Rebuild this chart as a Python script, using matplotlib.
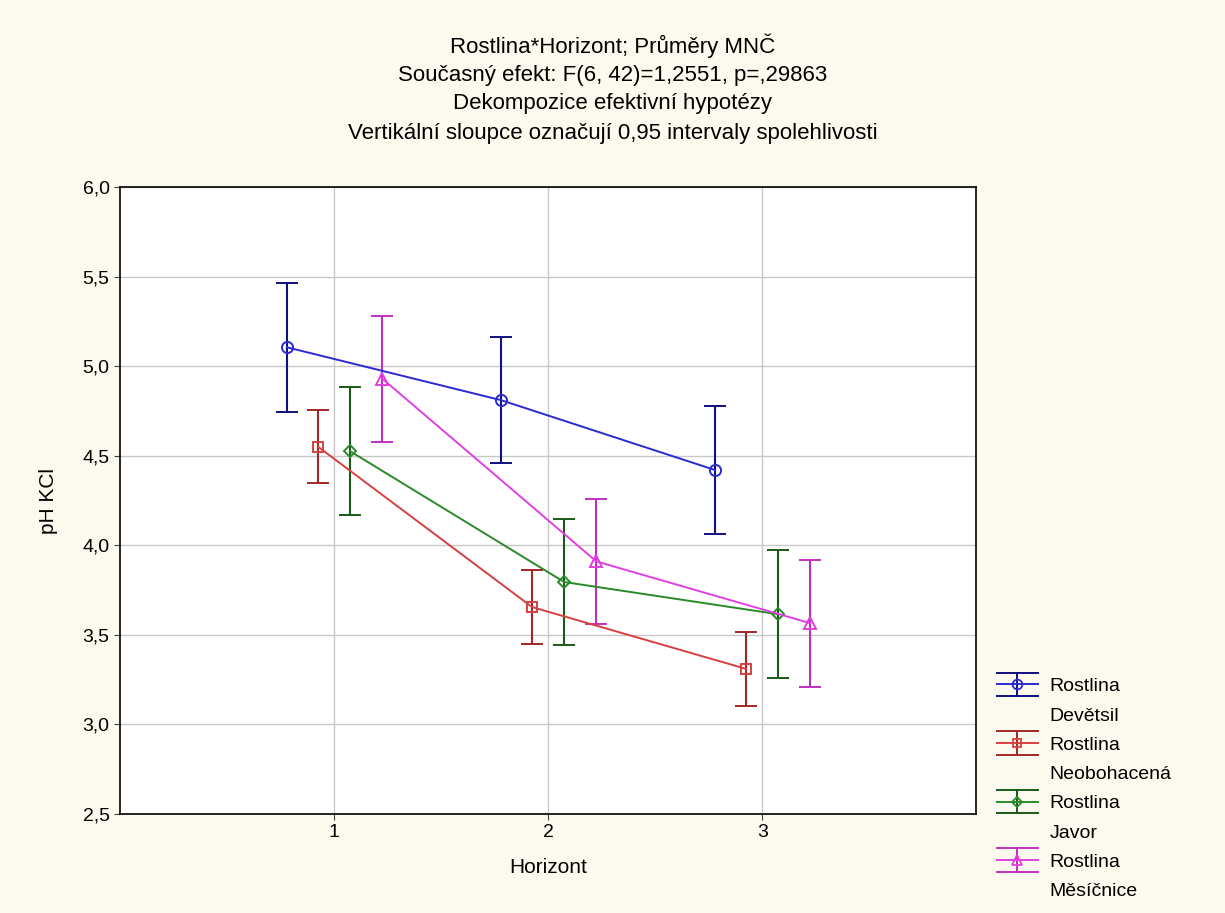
import matplotlib.pyplot as plt
from matplotlib.legend_handler import HandlerBase
from matplotlib.lines import Line2D
from matplotlib.ticker import FuncFormatter

horizons = [1, 2, 3]
group_label = "Rostlina"
series_names = ["Devětsil", "Neobohacená", "Javor", "Měsíčnice"]
devetsil_means = [5.105, 4.81, 4.42]
devetsil_ci = [0.36, 0.35, 0.355]
neobohacena_means = [4.55, 3.655, 3.31]
neobohacena_ci = [0.205, 0.205, 0.205]
javor_means = [4.525, 3.795, 3.615]
javor_ci = [0.358, 0.35, 0.358]
mesicnice_means = [4.93, 3.91, 3.565]
mesicnice_ci = [0.352, 0.35, 0.355]

title_lines = [
    "Rostlina*Horizont; Průměry MNČ",
    "Současný efekt: F(6, 42)=1,2551, p=,29863",
    "Dekompozice efektivní hypotézy",
    "Vertikální sloupce označují 0,95 intervaly spolehlivosti",
]

BG = "#fcf9ee"
FONT = ["Liberation Sans", "DejaVu Sans"]


class ErrorbarKey:
    def __init__(self, color, ecolor, marker, ms):
        self.color = color
        self.ecolor = ecolor
        self.marker = marker
        self.ms = ms


class ErrorbarKeyHandler(HandlerBase):
    # STATISTICA-style key: two full-width caps, line with marker, vertical bar
    def create_artists(self, legend, orig_handle, xdescent, ydescent,
                       width, height, fontsize, trans):
        x0, x1 = -xdescent, width - xdescent
        xm = (x0 + x1) / 2
        yc = height / 2 - ydescent
        d = 8.5
        arts = [
            Line2D([x0, x1], [yc + d, yc + d], color=orig_handle.ecolor, lw=1.4),
            Line2D([x0, x1], [yc - d, yc - d], color=orig_handle.ecolor, lw=1.4),
            Line2D([xm, xm], [yc - d, yc + d], color=orig_handle.ecolor, lw=1.4),
            Line2D([x0, x1], [yc, yc], color=orig_handle.color, lw=1.4),
            Line2D([xm], [yc], marker=orig_handle.marker, ms=orig_handle.ms,
                   mfc="none", mec=orig_handle.color, mew=1.3, linestyle="none"),
        ]
        for a in arts:
            a.set_transform(trans)
        return arts


def main():
    plt.rcParams["font.family"] = FONT
    fig = plt.figure(figsize=(12.25, 9.13), dpi=100, facecolor=BG)
    ax = fig.add_axes([0.098, 0.1084, 0.699, 0.6868])
    ax.set_facecolor("white")

    styles = [
        (devetsil_means, devetsil_ci, "#2a2ad0", "#101080", "o", 8),
        (neobohacena_means, neobohacena_ci, "#d84040", "#a02828", "s", 7),
        (javor_means, javor_ci, "#2a8a2a", "#1a5a1a", "D", 6),
        (mesicnice_means, mesicnice_ci, "#e040e0", "#c030c0", "^", 8),
    ]
    offsets = [-0.22, -0.075, 0.075, 0.225]

    keys = []
    for (means, ci, color, ecolor, marker, ms), off in zip(styles, offsets):
        xs = [h + off for h in horizons]
        ax.errorbar(
            xs, means, yerr=ci,
            color=color, ecolor=ecolor, elinewidth=1.5, capsize=8, capthick=1.5,
            linewidth=1.4, marker=marker, markersize=ms,
            markerfacecolor="none", markeredgecolor=color, markeredgewidth=1.4,
        )
        keys.append(ErrorbarKey(color, ecolor, marker, ms - 1))

    ax.set_xlim(0, 4)
    ax.set_ylim(2.5, 6.0)
    ax.set_xticks(horizons)
    ax.set_yticks([2.5, 3.0, 3.5, 4.0, 4.5, 5.0, 5.5, 6.0])
    ax.yaxis.set_major_formatter(FuncFormatter(lambda v, p: f"{v:.1f}".replace(".", ",")))
    ax.grid(True, color="#c8c8c8", linewidth=1.0)
    ax.set_axisbelow(True)
    ax.tick_params(labelsize=14, length=4, color="#404040")
    for spine in ax.spines.values():
        spine.set_color("black")
        spine.set_linewidth(1.2)

    ax.set_xlabel("Horizont", fontsize=15, labelpad=12)
    ax.set_ylabel("pH KCl", fontsize=15, labelpad=18)

    for i, line in enumerate(title_lines):
        fig.text(0.5, 1 - (46 + 29 * i) / 913, line, ha="center", va="center", fontsize=16)

    # two rows per entry: key + "Rostlina", then the plant name with no key
    blank = Line2D([], [], linestyle="none")
    handles, labels = [], []
    for key, name in zip(keys, series_names):
        handles += [key, blank]
        labels += [group_label, name]

    fig.legend(
        handles, labels, loc="lower left",
        bbox_to_anchor=(991 / 1225, 7 / 913), frameon=False, fontsize=14,
        handlelength=2.1, handletextpad=0.6, labelspacing=0.6,
        borderpad=0.3, borderaxespad=0.0,
        handler_map={ErrorbarKey: ErrorbarKeyHandler()},
    )

    fig.savefig("out.png", dpi=100, facecolor=BG)
    plt.close(fig)


if __name__ == "__main__":
    main()
